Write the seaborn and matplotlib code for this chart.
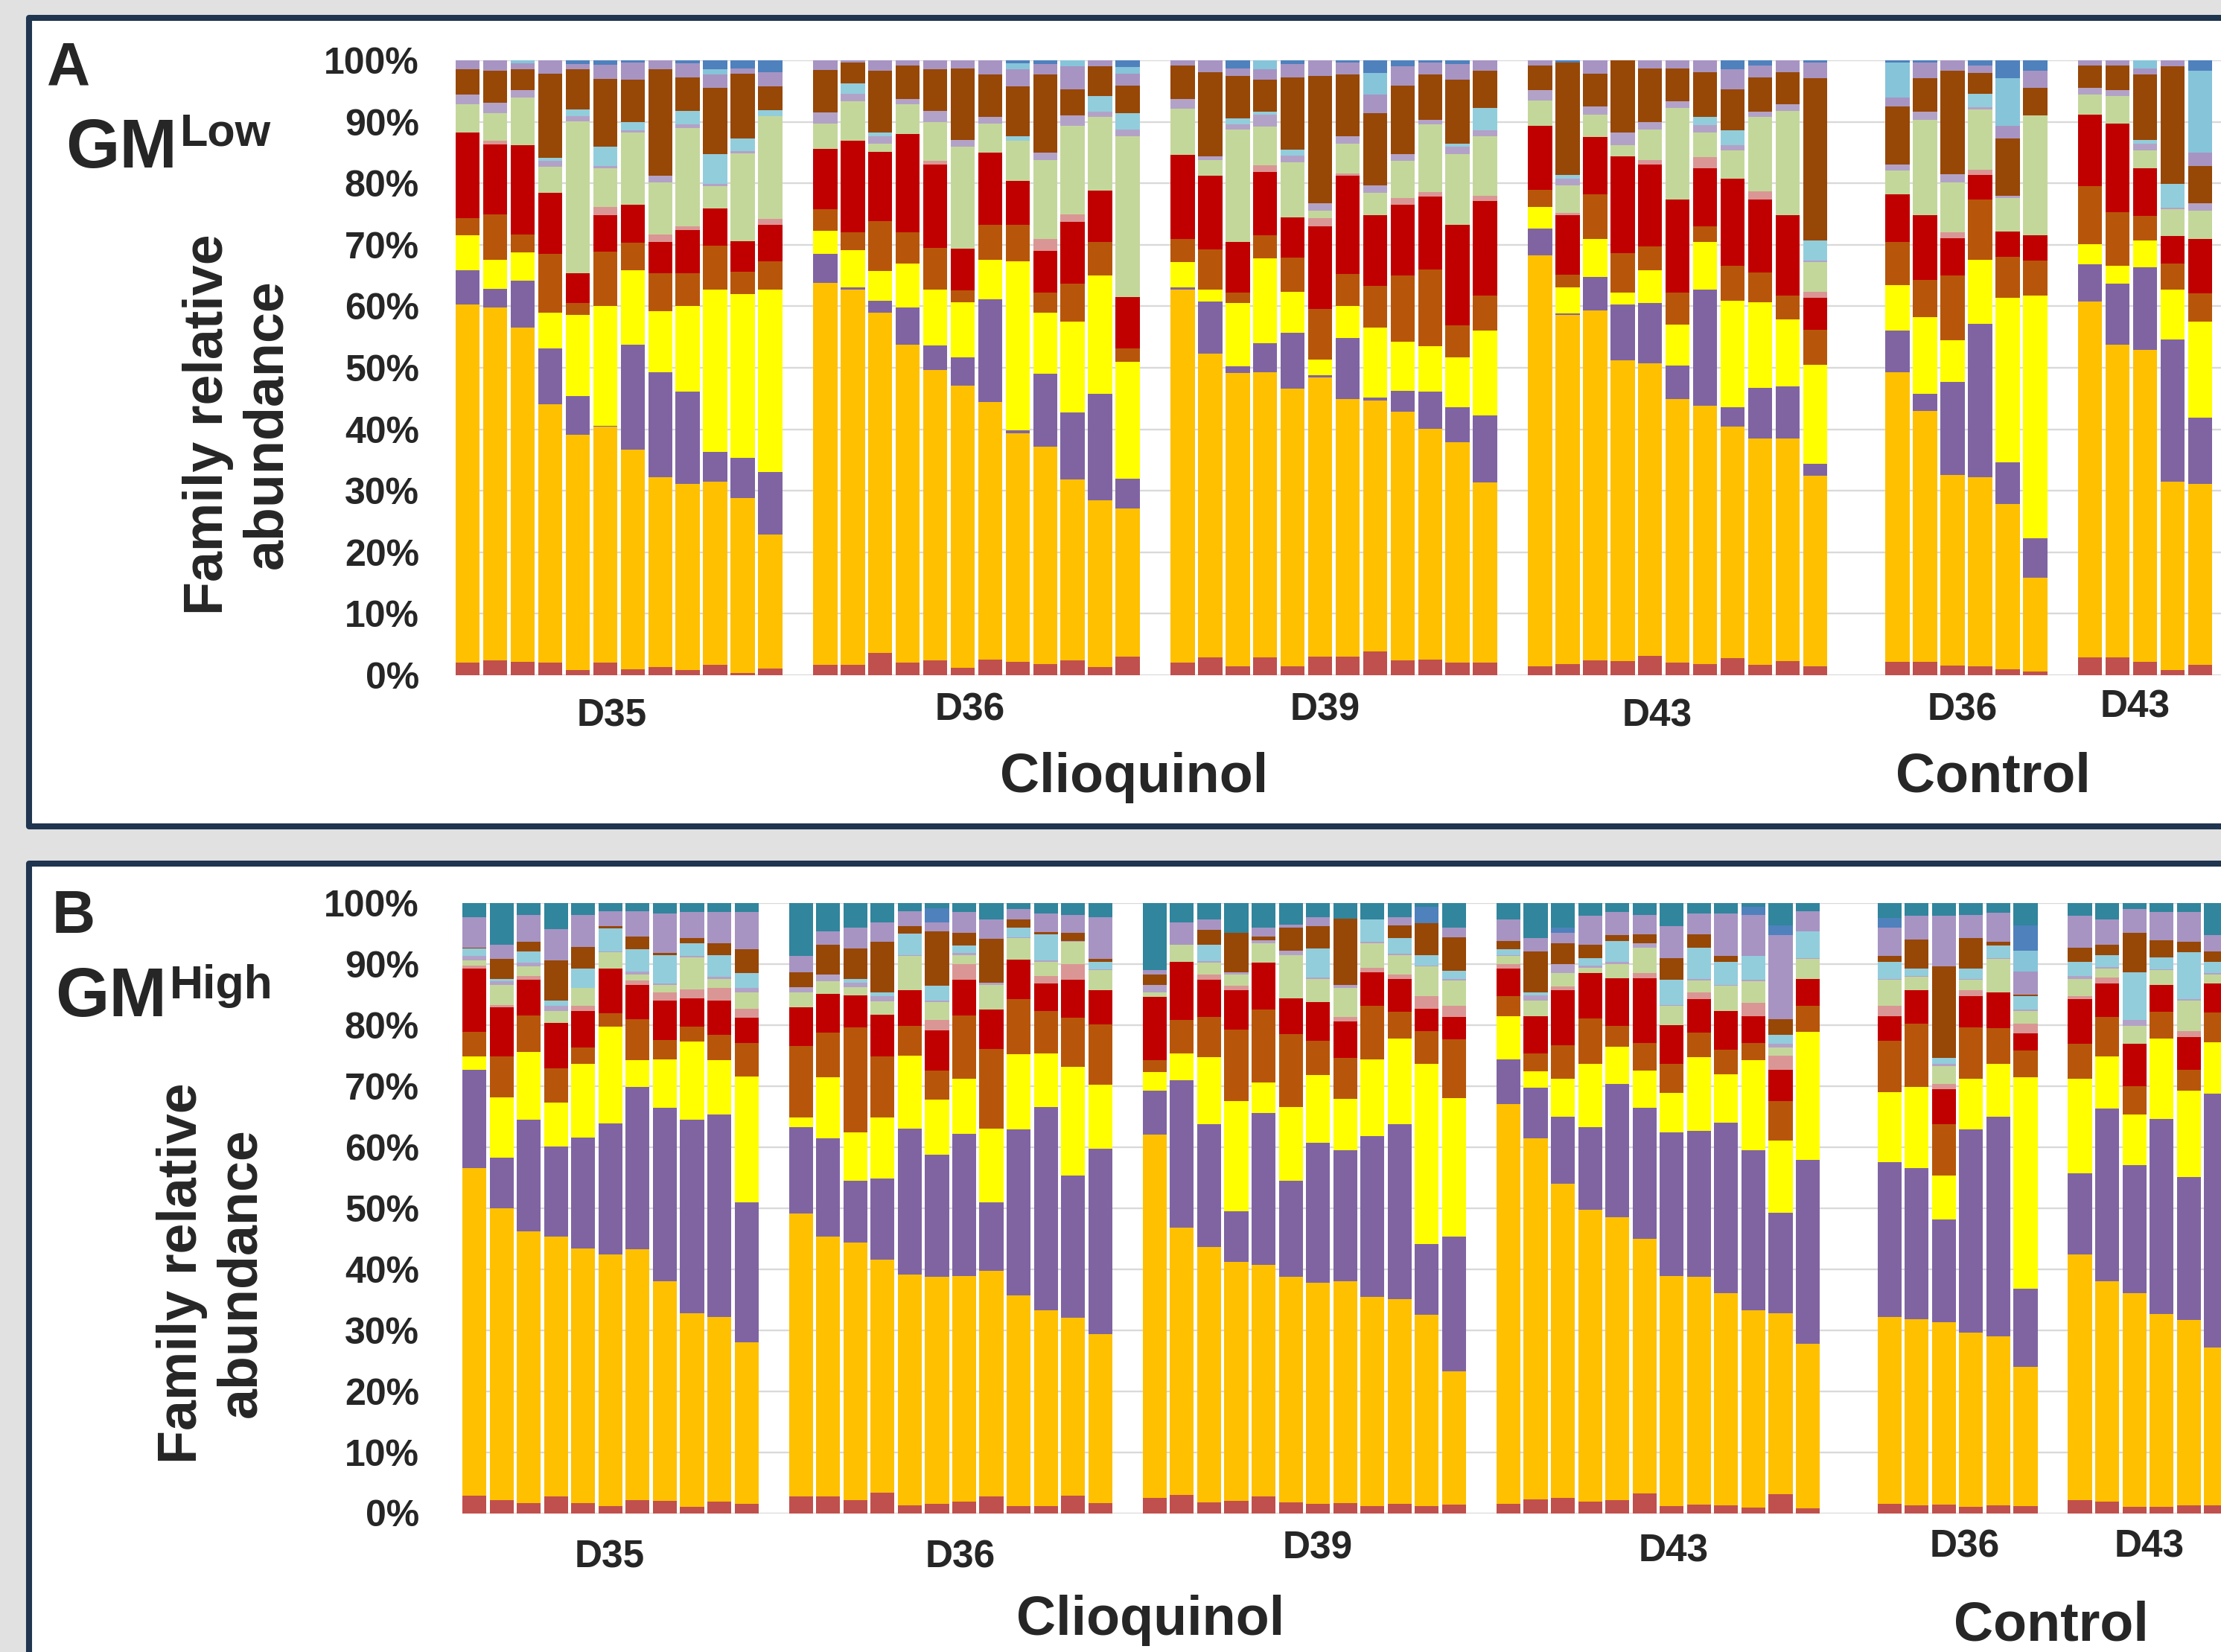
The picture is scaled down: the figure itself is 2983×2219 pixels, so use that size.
import numpy as np
import matplotlib
matplotlib.use("Agg")
import matplotlib.pyplot as plt
from matplotlib.patches import Rectangle
import seaborn as sns

# 1. Families (bottom -> top of every bar) and their Excel colours
families = ["brick", "gold", "purple", "yellow", "rust", "red", "pink", "green",
            "lavender1", "lightblue", "brown", "lavender2", "lightblue2", "blue", "teal"]
colors = ["#C0504D", "#FFC000", "#8064A2", "#FFFF00", "#B7560A", "#C00000", "#DA9694",
          "#C4D79B", "#B3A2C7", "#92CDDC", "#974706", "#A794C2", "#86C4DA", "#4F81BD",
          "#31859C"]

# 2. Cumulative tops (%) per sample; teal fills up to 100 %
# Panel A - GM Low
A_D35 = [
    [2.0, 60.3, 65.9, 71.5, 74.3, 88.2, 88.2, 92.9, 94.4, 94.4, 98.5, 100, 100, 100],
    [2.4, 59.8, 62.8, 67.6, 75.0, 86.3, 86.9, 91.4, 93.1, 93.1, 98.3, 100, 100, 100],
    [2.2, 56.5, 64.2, 68.8, 71.7, 86.2, 86.2, 94.0, 95.2, 95.2, 98.5, 99.5, 100, 100],
    [2.1, 44.1, 53.2, 58.9, 68.5, 78.4, 78.4, 82.7, 83.6, 84.2, 97.8, 100, 100, 100],
    [0.9, 39.1, 45.4, 58.6, 60.5, 65.4, 65.4, 90.1, 90.9, 92.0, 98.5, 99.4, 99.4, 100],
    [2.0, 40.4, 40.6, 60.1, 68.9, 74.8, 76.1, 82.5, 82.8, 86.0, 97.0, 99.3, 99.3, 100],
    [1.0, 36.7, 53.8, 65.9, 70.3, 76.5, 76.5, 88.2, 88.6, 89.9, 96.8, 99.6, 99.6, 100],
    [1.3, 32.2, 49.3, 59.2, 65.4, 70.4, 71.7, 80.1, 81.2, 81.2, 98.5, 100, 100, 100],
    [0.9, 31.1, 46.1, 60.1, 65.4, 72.4, 73.0, 89.0, 89.6, 91.8, 97.2, 99.5, 99.5, 100],
    [1.7, 31.5, 36.3, 62.7, 69.8, 75.9, 75.9, 79.5, 79.9, 84.7, 95.5, 97.7, 98.6, 100],
    [0.4, 28.8, 35.3, 62.0, 65.6, 70.6, 70.6, 84.9, 85.2, 87.3, 97.8, 98.7, 98.7, 100],
    [1.1, 22.9, 33.1, 62.7, 67.3, 73.3, 74.2, 90.9, 90.9, 91.9, 95.8, 98.1, 98.1, 100],
]
A_D36 = [
    [1.7, 63.8, 68.5, 72.3, 75.8, 85.6, 85.6, 89.7, 91.5, 91.5, 98.4, 100, 100, 100],
    [1.7, 62.7, 63.1, 69.1, 72.0, 86.9, 86.9, 93.3, 94.6, 96.2, 99.6, 100, 100, 100],
    [3.6, 59.0, 60.9, 65.7, 73.9, 85.1, 85.1, 86.4, 87.7, 88.3, 98.3, 100, 100, 100],
    [2.1, 53.8, 59.8, 67.0, 72.0, 88.0, 88.0, 92.8, 93.7, 93.7, 99.2, 100, 100, 100],
    [2.4, 49.6, 53.6, 62.7, 69.5, 83.0, 83.7, 89.9, 91.8, 91.8, 98.5, 100, 100, 100],
    [1.2, 47.1, 51.7, 60.7, 62.6, 69.4, 69.4, 86.0, 87.1, 87.1, 98.7, 100, 100, 100],
    [2.6, 44.4, 61.1, 67.6, 73.2, 85.0, 85.0, 89.7, 90.8, 90.8, 97.7, 100, 100, 100],
    [2.2, 39.3, 39.8, 67.3, 73.3, 80.4, 80.4, 86.9, 86.9, 87.7, 95.8, 98.5, 99.5, 100],
    [1.8, 37.2, 49.0, 59.0, 62.2, 69.0, 71.0, 83.8, 85.0, 85.0, 97.7, 99.4, 99.4, 100],
    [2.4, 31.8, 42.7, 57.5, 63.7, 73.7, 75.0, 89.3, 91.1, 91.1, 95.3, 99.0, 100, 100],
    [1.3, 28.5, 45.8, 65.0, 70.4, 78.8, 78.8, 90.8, 91.6, 94.2, 99.0, 100, 100, 100],
    [3.0, 27.1, 32.0, 51.0, 53.2, 61.5, 61.5, 87.7, 88.8, 91.4, 95.9, 97.8, 98.9, 100],
]
A_D39 = [
    [2.0, 62.7, 63.1, 67.2, 71.0, 84.6, 84.6, 92.1, 93.7, 93.7, 99.1, 100, 100, 100],
    [2.9, 52.3, 60.8, 62.7, 69.2, 81.2, 81.2, 83.8, 84.4, 84.4, 98.1, 100, 100, 100],
    [1.5, 49.1, 50.3, 60.5, 62.2, 70.4, 70.4, 88.8, 89.6, 90.5, 97.5, 98.7, 98.7, 100],
    [2.9, 49.3, 54.0, 67.8, 71.6, 81.8, 82.9, 89.2, 91.2, 91.6, 96.8, 98.5, 100, 100],
    [1.4, 46.6, 55.7, 62.3, 67.9, 74.5, 74.5, 83.4, 84.5, 85.5, 97.2, 99.4, 99.4, 100],
    [3.0, 48.4, 48.8, 51.3, 59.6, 73.0, 74.3, 75.6, 76.7, 76.7, 97.4, 100, 100, 100],
    [3.0, 44.9, 54.9, 60.1, 65.3, 81.2, 81.6, 86.4, 87.7, 87.7, 97.7, 99.6, 99.6, 100],
    [3.9, 44.7, 45.2, 56.5, 63.3, 74.8, 74.8, 78.5, 79.7, 79.7, 91.4, 94.4, 97.9, 100],
    [2.4, 42.8, 46.2, 54.2, 65.0, 76.5, 77.6, 83.7, 84.7, 84.7, 95.9, 99.0, 99.0, 100],
    [2.6, 40.1, 46.1, 53.5, 66.0, 77.8, 78.6, 89.6, 90.3, 90.3, 97.7, 99.6, 99.6, 100],
    [2.1, 37.9, 43.6, 51.7, 56.9, 73.3, 73.3, 84.7, 85.9, 86.4, 96.8, 99.4, 99.4, 100],
    [2.1, 31.4, 42.3, 56.0, 61.7, 77.1, 78.0, 87.6, 88.6, 92.2, 98.3, 100, 100, 100],
]
A_D43 = [
    [1.5, 68.3, 72.6, 76.1, 78.9, 89.3, 89.3, 93.5, 95.2, 95.2, 99.2, 100, 100, 100],
    [1.8, 58.6, 58.8, 63.1, 65.1, 74.8, 75.2, 79.7, 80.8, 81.4, 99.6, 99.6, 99.6, 100],
    [2.4, 59.3, 64.8, 70.9, 78.2, 87.5, 87.5, 91.2, 92.5, 92.5, 97.8, 100, 100, 100],
    [2.3, 51.2, 60.3, 62.2, 68.6, 84.4, 84.4, 86.2, 88.3, 88.3, 100, 100, 100, 100],
    [3.2, 50.7, 60.5, 65.9, 69.7, 83.0, 83.8, 88.8, 89.9, 89.9, 98.7, 100, 100, 100],
    [2.1, 44.9, 50.4, 57.0, 62.2, 77.4, 77.4, 92.2, 93.3, 93.3, 98.7, 100, 100, 100],
    [1.8, 43.8, 62.7, 70.4, 73.0, 82.5, 84.3, 88.2, 89.5, 90.8, 98.1, 100, 100, 100],
    [2.8, 40.4, 43.6, 60.9, 66.6, 80.8, 80.8, 85.3, 86.2, 88.6, 95.3, 98.5, 98.5, 100],
    [1.7, 38.5, 46.7, 60.7, 65.5, 77.4, 78.7, 90.8, 91.6, 91.6, 97.2, 99.2, 99.2, 100],
    [2.3, 38.5, 47.0, 57.9, 61.8, 74.8, 74.8, 91.8, 92.9, 92.9, 98.1, 100, 100, 100],
    [1.5, 32.4, 34.4, 50.5, 56.2, 61.4, 62.4, 67.2, 67.4, 70.7, 97.1, 99.6, 99.6, 100],
]
A_C36 = [
    [2.2, 49.3, 56.0, 63.4, 70.4, 78.2, 78.2, 82.1, 83.0, 83.0, 92.5, 94.0, 99.6, 100],
    [2.2, 43.0, 45.8, 58.2, 64.3, 74.8, 74.8, 90.3, 91.6, 91.6, 97.1, 99.6, 99.6, 100],
    [1.6, 32.6, 47.7, 54.5, 65.0, 71.1, 72.0, 80.2, 81.5, 81.5, 98.3, 100, 100, 100],
    [1.5, 32.2, 57.2, 67.6, 77.4, 81.4, 82.2, 92.0, 92.4, 94.6, 97.9, 99.2, 99.2, 100],
    [1.0, 27.9, 34.6, 61.4, 68.0, 72.2, 72.2, 77.6, 78.0, 78.0, 87.3, 89.3, 97.1, 100],
    [0.6, 15.8, 22.3, 61.7, 67.4, 71.5, 71.5, 91.1, 91.1, 91.1, 95.5, 98.3, 98.3, 100],
]
A_C43 = [
    [2.9, 60.8, 66.8, 70.1, 79.6, 91.2, 91.2, 94.4, 95.5, 95.5, 99.2, 100, 100, 100],
    [2.9, 53.8, 63.7, 66.6, 75.3, 89.7, 89.7, 94.2, 95.1, 95.1, 99.2, 100, 100, 100],
    [2.2, 52.9, 66.4, 70.7, 74.7, 82.4, 82.4, 85.3, 86.4, 87.0, 97.7, 98.7, 100, 100],
    [0.9, 31.5, 54.6, 62.7, 66.9, 71.4, 71.4, 75.8, 76.0, 79.9, 99.0, 100, 100, 100],
    [1.7, 31.1, 41.9, 57.5, 62.1, 71.0, 71.0, 75.6, 76.7, 76.7, 82.8, 85.0, 98.3, 100],
]

# Panel B - GM High
B_D35 = [
    [2.9, 56.6, 72.7, 74.9, 78.9, 89.3, 89.8, 90.6, 91.3, 92.5, 92.7, 97.7, 97.7, 97.7],
    [2.1, 50.0, 58.3, 68.2, 74.9, 82.9, 83.3, 86.6, 87.2, 87.6, 90.8, 93.2, 93.2, 93.2],
    [1.6, 46.2, 64.5, 75.6, 81.6, 87.4, 88.0, 89.6, 90.2, 92.1, 93.6, 98.1, 98.1, 98.1],
    [2.7, 45.3, 60.1, 67.3, 72.9, 80.3, 80.3, 82.3, 83.1, 84.0, 90.6, 95.7, 95.7, 95.7],
    [1.6, 43.4, 61.6, 73.7, 76.3, 82.3, 83.1, 86.1, 86.1, 89.3, 92.8, 98.1, 98.1, 98.1],
    [1.1, 42.4, 63.9, 79.7, 81.9, 89.3, 89.3, 91.9, 92.1, 95.8, 96.2, 98.7, 98.7, 98.7],
    [2.1, 43.2, 69.9, 74.3, 81.0, 86.6, 87.3, 88.3, 88.8, 92.4, 94.5, 98.7, 98.7, 98.7],
    [2.0, 38.0, 66.5, 74.4, 77.6, 84.0, 85.3, 86.6, 86.8, 91.5, 91.8, 98.3, 98.3, 98.3],
    [1.0, 32.8, 64.5, 77.3, 79.7, 84.4, 85.9, 91.1, 91.3, 93.4, 94.3, 98.5, 98.5, 98.5],
    [1.9, 32.2, 65.4, 74.2, 78.4, 84.0, 86.1, 87.6, 87.9, 91.5, 93.4, 98.5, 98.5, 98.5],
    [1.5, 28.0, 51.0, 71.6, 77.0, 81.2, 82.7, 85.3, 86.1, 88.5, 92.4, 98.5, 98.5, 98.5],
]
B_D36 = [
    [2.7, 49.1, 63.3, 64.9, 76.6, 82.9, 82.9, 85.3, 86.2, 86.2, 88.7, 91.3, 91.3, 91.3],
    [2.7, 45.3, 61.4, 71.5, 78.8, 85.1, 85.1, 87.2, 88.3, 88.3, 93.2, 95.4, 95.4, 95.4],
    [2.1, 44.3, 54.5, 62.4, 79.6, 84.9, 84.9, 86.2, 87.0, 87.5, 92.6, 96.0, 96.0, 96.0],
    [3.3, 41.6, 54.8, 64.8, 74.9, 81.7, 81.7, 83.9, 84.7, 85.3, 93.7, 96.8, 96.8, 96.8],
    [1.3, 39.1, 63.0, 75.0, 79.9, 85.7, 85.7, 91.3, 91.5, 95.0, 96.2, 98.7, 98.7, 98.7],
    [1.5, 38.7, 58.7, 67.8, 72.5, 79.1, 80.8, 83.8, 84.0, 86.4, 95.4, 96.8, 96.8, 99.1],
    [1.9, 38.9, 62.2, 71.2, 81.6, 87.4, 90.0, 91.5, 91.8, 93.0, 95.1, 98.5, 98.5, 98.5],
    [2.7, 39.7, 51.0, 63.0, 76.1, 82.5, 82.5, 86.6, 87.0, 87.0, 94.1, 97.3, 97.3, 97.3],
    [1.1, 35.7, 62.9, 75.2, 84.3, 90.7, 90.7, 94.3, 94.4, 96.0, 97.3, 99.0, 99.0, 99.0],
    [1.1, 33.3, 66.6, 75.3, 82.3, 86.8, 88.0, 90.4, 90.6, 94.9, 95.3, 98.3, 98.3, 98.3],
    [2.9, 32.0, 55.3, 73.2, 81.2, 87.4, 90.0, 93.6, 93.8, 93.8, 95.1, 98.1, 98.1, 98.1],
    [1.6, 29.3, 59.7, 70.2, 80.1, 85.7, 85.7, 89.0, 89.2, 90.4, 90.8, 97.7, 97.7, 97.7],
]
B_D39 = [
    [2.5, 62.1, 69.3, 72.3, 74.2, 84.6, 84.6, 85.3, 86.6, 86.6, 88.3, 89.0, 89.0, 89.0],
    [3.0, 46.8, 70.9, 75.4, 80.8, 90.4, 90.4, 93.2, 93.2, 93.2, 93.2, 96.8, 96.8, 96.8],
    [1.8, 43.6, 63.7, 74.8, 81.3, 87.4, 88.3, 90.2, 90.5, 93.2, 95.6, 97.3, 97.3, 97.3],
    [2.0, 41.2, 49.5, 67.6, 79.3, 85.7, 86.5, 88.3, 88.6, 88.6, 95.1, 95.1, 95.1, 95.1],
    [2.7, 40.7, 65.6, 70.6, 82.5, 90.2, 90.2, 93.4, 93.9, 93.9, 94.5, 96.0, 96.0, 96.0],
    [1.8, 38.8, 54.5, 66.6, 78.5, 84.4, 84.4, 91.5, 92.2, 92.2, 96.0, 96.5, 96.5, 96.5],
    [1.5, 37.8, 60.7, 71.8, 77.4, 83.8, 83.8, 87.6, 87.8, 92.6, 96.2, 97.7, 97.7, 97.7],
    [1.6, 38.0, 59.5, 67.9, 74.6, 80.6, 81.3, 86.1, 86.6, 86.6, 97.4, 97.4, 97.4, 97.4],
    [1.2, 35.5, 61.8, 74.4, 83.1, 88.7, 89.4, 93.4, 93.6, 97.3, 97.3, 97.3, 97.3, 97.3],
    [1.5, 35.1, 63.7, 77.8, 82.2, 87.6, 88.3, 91.5, 91.7, 94.3, 96.4, 97.7, 97.7, 97.7],
    [1.1, 32.5, 44.1, 73.7, 79.0, 82.7, 84.7, 89.6, 89.8, 91.4, 96.7, 96.7, 96.7, 99.4],
    [1.4, 23.2, 45.3, 68.0, 77.7, 81.3, 83.1, 87.3, 87.5, 88.9, 94.4, 96.0, 96.0, 96.0],
]
B_D43 = [
    [1.5, 67.1, 74.4, 81.4, 84.8, 89.3, 90.0, 91.3, 91.5, 92.4, 93.8, 97.3, 97.3, 97.3],
    [2.2, 61.5, 69.7, 72.4, 75.4, 81.4, 81.4, 84.0, 84.9, 85.3, 92.1, 94.3, 94.3, 94.3],
    [2.5, 54.0, 65.0, 71.2, 76.7, 85.7, 86.3, 88.5, 90.0, 90.0, 93.4, 95.1, 95.1, 96.0],
    [1.9, 49.7, 63.3, 73.7, 81.1, 88.5, 88.5, 89.4, 89.8, 91.0, 93.2, 97.9, 97.9, 97.9],
    [2.1, 48.5, 70.4, 76.5, 79.9, 87.7, 87.7, 90.0, 90.4, 93.8, 94.7, 98.5, 98.5, 98.5],
    [3.2, 45.0, 66.4, 72.5, 77.1, 87.7, 88.5, 92.7, 93.4, 93.4, 94.9, 98.1, 98.1, 98.1],
    [1.2, 38.9, 62.4, 68.9, 73.6, 80.0, 80.0, 83.1, 83.3, 87.4, 91.0, 96.2, 96.2, 96.2],
    [1.4, 38.8, 62.7, 74.8, 78.8, 84.2, 85.3, 87.3, 87.6, 92.7, 94.9, 98.3, 98.3, 98.3],
    [1.3, 36.1, 64.0, 71.9, 76.0, 82.3, 82.3, 86.4, 86.6, 90.4, 91.3, 98.3, 98.3, 98.3],
    [0.9, 33.2, 59.5, 74.3, 77.0, 81.4, 83.6, 87.2, 87.4, 91.3, 91.3, 98.1, 98.1, 99.4],
    [3.1, 32.8, 49.2, 61.1, 67.5, 72.7, 75.0, 76.3, 76.9, 78.4, 81.0, 94.7, 94.7, 96.4],
    [0.8, 27.8, 57.9, 78.9, 83.1, 87.6, 87.6, 90.8, 91.0, 95.4, 95.4, 98.7, 98.7, 98.7],
]
B_C36 = [
    [1.5, 32.2, 57.5, 69.0, 77.4, 81.4, 83.1, 87.4, 87.6, 90.4, 91.3, 96.0, 96.0, 97.6],
    [1.3, 31.8, 56.5, 69.9, 80.2, 85.7, 85.7, 87.9, 88.1, 89.3, 94.0, 97.9, 97.9, 97.9],
    [1.4, 31.3, 48.2, 55.3, 63.8, 69.5, 70.4, 73.3, 73.6, 74.6, 89.6, 97.9, 97.9, 97.9],
    [1.0, 29.6, 62.9, 71.2, 79.6, 84.7, 85.7, 87.4, 87.6, 89.3, 94.3, 98.1, 98.1, 98.1],
    [1.3, 29.0, 65.0, 73.7, 79.5, 85.4, 85.4, 90.8, 91.0, 93.0, 93.7, 98.4, 98.4, 98.4],
    [1.2, 24.0, 36.8, 71.4, 75.8, 78.6, 80.2, 82.3, 82.6, 84.7, 85.0, 88.8, 92.2, 96.3],
]
B_C43 = [
    [2.1, 42.4, 55.7, 71.2, 76.9, 84.2, 84.7, 87.6, 88.1, 90.4, 92.7, 97.9, 97.9, 97.9],
    [1.9, 38.0, 66.3, 74.9, 81.3, 86.8, 87.8, 89.3, 89.5, 91.4, 93.2, 97.3, 97.3, 97.3],
    [1.0, 36.1, 57.0, 65.4, 70.0, 76.9, 76.9, 79.9, 80.8, 88.7, 95.1, 99.0, 99.0, 99.0],
    [1.0, 32.7, 64.6, 77.8, 82.2, 86.6, 86.6, 89.0, 89.2, 91.1, 93.9, 98.5, 98.5, 98.5],
    [1.3, 31.7, 55.1, 69.2, 72.7, 78.0, 79.0, 84.0, 84.3, 91.9, 93.6, 98.5, 98.5, 98.5],
    [1.3, 27.1, 68.8, 77.2, 82.1, 86.8, 86.8, 88.3, 88.5, 90.4, 92.1, 94.7, 94.7, 94.7],
]

day_labels = ["D35", "D36", "D39", "D43", "D36", "D43"]
treatments = ["Clioquinol", "Control"]
yticks = list(range(0, 101, 10))

# 3. Layout (pixels of the 2983 x 2219 canvas)
W, H = 2983, 2219
A_slot_start = [0, 13, 26, 39, 52, 59]
B_slot_start = [0, 12, 25, 38, 52, 59]


def fx(px):
    return px / W


def fy(py):
    return 1 - py / H


def draw_panel(ax, groups, starts, slot_px, left_px):
    pos = np.concatenate([s + np.arange(len(g)) for g, s in zip(groups, starts)])
    tops = np.vstack([np.asarray(g, float) for g in groups])
    tops = np.column_stack([tops, np.full(len(tops), 100.0)])
    tops = np.maximum.accumulate(tops, axis=1)
    bottoms = np.column_stack([np.zeros(len(tops)), tops[:, :-1]])
    for k, col in enumerate(colors):
        sns.barplot(x=pos, y=tops[:, k] - bottoms[:, k], bottom=bottoms[:, k],
                    native_scale=True, orient="x", width=0.88, color=col,
                    saturation=1, errorbar=None, linewidth=0, ax=ax)
    ax.set_xlim(-0.44, -0.44 + (W - left_px) / slot_px)
    ax.set_ylim(0, 100)
    ax.set_xticks([])
    ax.set_yticks(yticks)
    ax.set_yticklabels([f"{v}%" for v in yticks], fontsize=36, fontweight="bold")
    ax.tick_params(axis="y", length=0, pad=(left_px - 563) / 1.389)
    ax.yaxis.grid(True, color="#D9D9D9", linewidth=1.7)
    ax.set_axisbelow(True)
    ax.set_xlabel("")
    ax.set_ylabel("")
    for sp in ax.spines.values():
        sp.set_visible(False)


def frame(fig, top, bottom):
    r = Rectangle((fx(39), fy(bottom)), fx(3300) - fx(39), fy(top) - fy(bottom),
                  transform=fig.transFigure, facecolor="white", edgecolor="#1F3550",
                  linewidth=5.8, joinstyle="round", zorder=-10)
    fig.patches.append(r)


def label(fig, x, y, s, size, ha="center"):
    fig.text(fx(x), fy(y), s, fontsize=size, fontweight="bold", ha=ha, va="baseline")


sns.set_style("white")
plt.rcParams["font.family"] = ["Liberation Sans", "DejaVu Sans"]

fig = plt.figure(figsize=(W / 100, H / 100), dpi=100, facecolor="#E1E1E1")
frame(fig, 23.5, 1109.5)
frame(fig, 1159.5, 2400)

# 4. Panel A
axA = fig.add_axes([fx(612), fy(907), (W - 612) / W, 826 / H])
axA.set_facecolor("white")
draw_panel(axA, [A_D35, A_D36, A_D39, A_D43, A_C36, A_C43], A_slot_start, 36.93, 612)

label(fig, 63, 113, "A", 58, ha="left")
label(fig, 88, 225, "GM", 67, ha="left")
label(fig, 242, 196, "Low", 44, ha="left")
fig.text(fx(319), fy(570), "Family relative\nabundance", rotation=90, fontsize=53,
         fontweight="bold", ha="center", va="center", linespacing=1.2,
         multialignment="center")
for s, (x, y) in zip(day_labels, [(822, 975), (1303, 968), (1780, 968), (2226, 975),
                                  (2636, 968), (2868, 964)]):
    label(fig, x, y, s, 37)
label(fig, 1523, 1064, treatments[0], 53)
label(fig, 2677, 1064, treatments[1], 53)

# 5. Panel B
axB = fig.add_axes([fx(621), fy(2032.5), (W - 621) / W, 819.5 / H])
axB.set_facecolor("white")
draw_panel(axB, [B_D35, B_D36, B_D39, B_D43, B_C36, B_C43], B_slot_start, 36.55, 621)

label(fig, 70, 1253, "B", 58, ha="left")
label(fig, 74, 1365, "GM", 67, ha="left")
label(fig, 228, 1341, "High", 45, ha="left")
fig.text(fx(284), fy(1710), "Family relative\nabundance", rotation=90, fontsize=53,
         fontweight="bold", ha="center", va="center", linespacing=1.2,
         multialignment="center")
for s, (x, y) in zip(day_labels, [(819, 2105), (1290, 2105), (1770, 2094), (2248, 2098),
                                  (2639, 2091), (2887, 2091)]):
    label(fig, x, y, s, 37)
label(fig, 1545, 2196, treatments[0], 53)
label(fig, 2755, 2203, treatments[1], 53)

fig.savefig("out.png", dpi=100, facecolor=fig.get_facecolor())
